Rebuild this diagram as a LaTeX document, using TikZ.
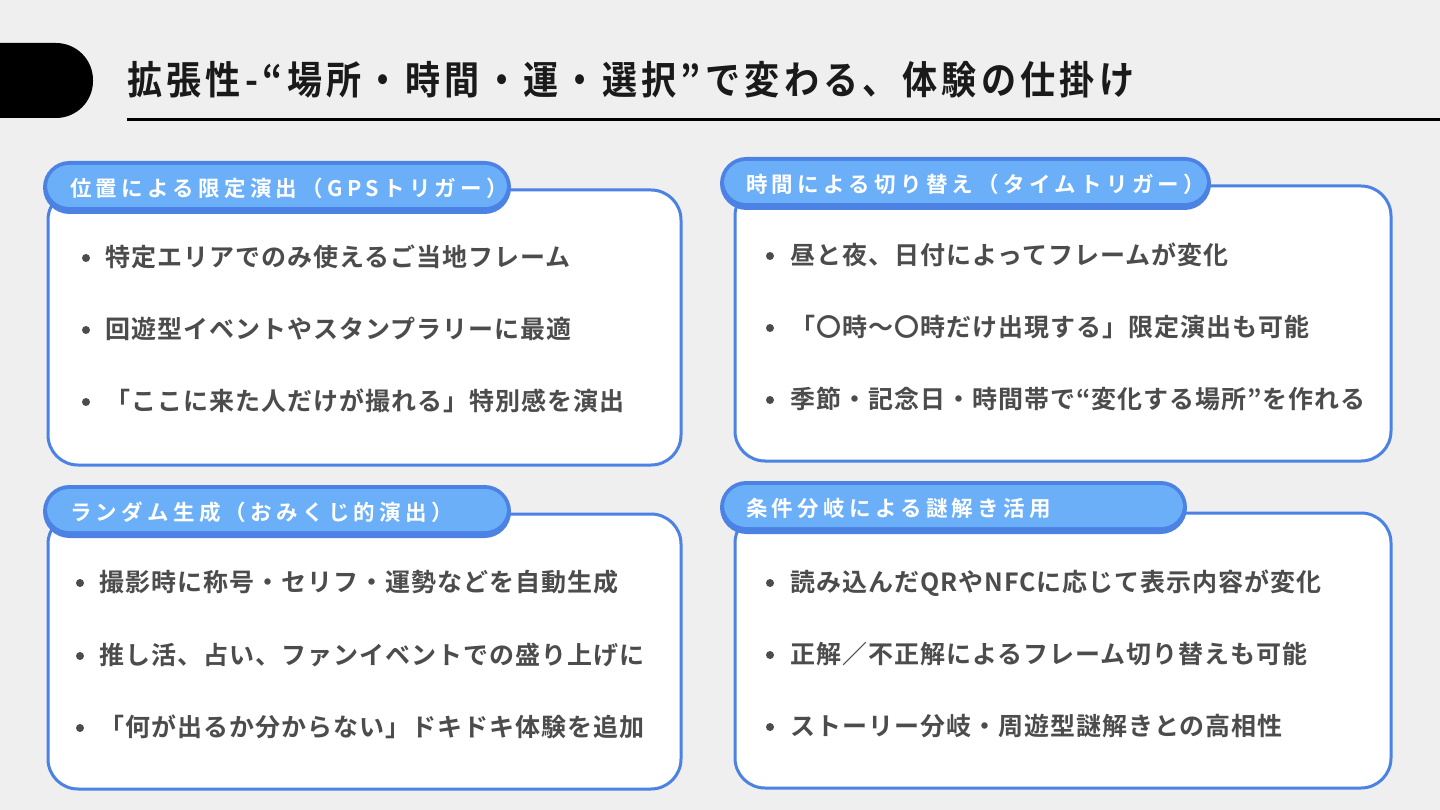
\documentclass[tikz,border=0pt]{standalone}
\usepackage{fontspec}
\setmainfont{Noto Sans CJK JP}[BoldFont={Noto Sans CJK JP Bold}]
\newfontfamily\titlefont{Noto Sans CJK JP Bold}[FakeStretch=0.9,LetterSpace=11]
\newfontfamily\hdrfont{Noto Sans CJK JP Bold}[LetterSpace=20]
\newfontfamily\bodyfont{Noto Sans CJK JP Bold}[LetterSpace=4]
\definecolor{bg}{HTML}{EFEFEF}
\definecolor{cardline}{HTML}{4C82E4}
\definecolor{hdrfill}{HTML}{6BAFF8}
\definecolor{bodytxt}{HTML}{4C4C4C}
\definecolor{titletxt}{HTML}{1A1A1A}
\tikzset{
  card/.style={draw=cardline,line width=3pt,fill=white,rounded corners=30pt},
  hdrtxt/.style={anchor=base west,inner sep=0pt,text=white,font=\hdrfont\fontsize{21.5}{25}\selectfont},
  bodyline/.style={anchor=base west,inner sep=0pt,text=bodytxt,font=\bodyfont\fontsize{25}{30}\selectfont},
  dotmark/.style={circle,fill=bodytxt,inner sep=0pt,minimum size=8pt},
}
\newcommand{\hdrpill}[5]{% name, x1, y1, x2, y2
  \fill[cardline,rounded corners=26.5pt] (#2,#3) rectangle (#4,#5);
  \fill[hdrfill,rounded corners=22pt] ({#2+4},{#3+4}) rectangle ({#4-4},{#5-7});
}
\newcommand{\bulletline}[5]{% name, dotx, textx, centery, text
  \node[dotmark] (#1d) at (#2,{#4+1}) {};
  \node[bodyline] (#1) at (#3,{#4+9.5}) {#5};
}
\begin{document}
\begin{tikzpicture}[x=1pt,y=-1pt]
\fill[bg] (0,0) rectangle (1440,810);
\useasboundingbox (0,0) rectangle (1440,810);
% title bar
\fill[black,rounded corners=37pt] (-60,43) rectangle (93,118);
\node[anchor=base west,inner sep=0pt,text=titletxt,font=\titlefont\fontsize{39}{44}\selectfont] (title) at (127,95) {拡張性-“場所・時間・運・選択”で変わる、体験の仕掛け};
\draw[black,line width=2.5pt] (127,119.5) -- (1440,119.5);

% card 1
\draw[card] (48,190) rectangle (681,465);
\hdrpill{h1}{43}{161}{511}{214}
\node[hdrtxt] (t1) at (70,196.5) {位置による限定演出（GPSトリガー）};
\bulletline{a1}{86}{105}{257}{特定エリアでのみ使えるご当地フレーム}
\bulletline{a2}{86}{105}{329}{回遊型イベントやスタンプラリーに最適}
\bulletline{a3}{86}{105}{401}{「ここに来た人だけが撮れる」特別感を演出}

% card 2
\draw[card] (735,186) rectangle (1391,461);
\hdrpill{h2}{720}{157}{1211}{210}
\node[hdrtxt] (t2) at (746,192.5) {時間による切り替え（タイムトリガー）};
\bulletline{b1}{770}{790}{255}{昼と夜、日付によってフレームが変化}
\bulletline{b2}{770}{790}{327}{「〇時〜〇時だけ出現する」限定演出も可能}
\bulletline{b3}{770}{790}{399}{季節・記念日・時間帯で“変化する場所”を作れる}

% card 3
\draw[card] (48,514) rectangle (681,789);
\hdrpill{h3}{43}{485}{511}{538}
\node[hdrtxt] (t3) at (70,520.5) {ランダム生成（おみくじ的演出）};
\bulletline{c1}{80}{99}{582}{撮影時に称号・セリフ・運勢などを自動生成}
\bulletline{c2}{80}{99}{655}{推し活、占い、ファンイベントでの盛り上げに}
\bulletline{c3}{80}{99}{727}{「何が出るか分からない」ドキドキ体験を追加}

% card 4
\draw[card] (735,513) rectangle (1391,788);
\hdrpill{h4}{720}{481}{1187}{534}
\node[hdrtxt] (t4) at (746,516.5) {条件分岐による謎解き活用};
\bulletline{e1}{770}{790}{582}{読み込んだQRやNFCに応じて表示内容が変化}
\bulletline{e2}{770}{790}{654}{正解／不正解によるフレーム切り替えも可能}
\bulletline{e3}{770}{790}{726}{ストーリー分岐・周遊型謎解きとの高相性}
\end{tikzpicture}
\end{document}
